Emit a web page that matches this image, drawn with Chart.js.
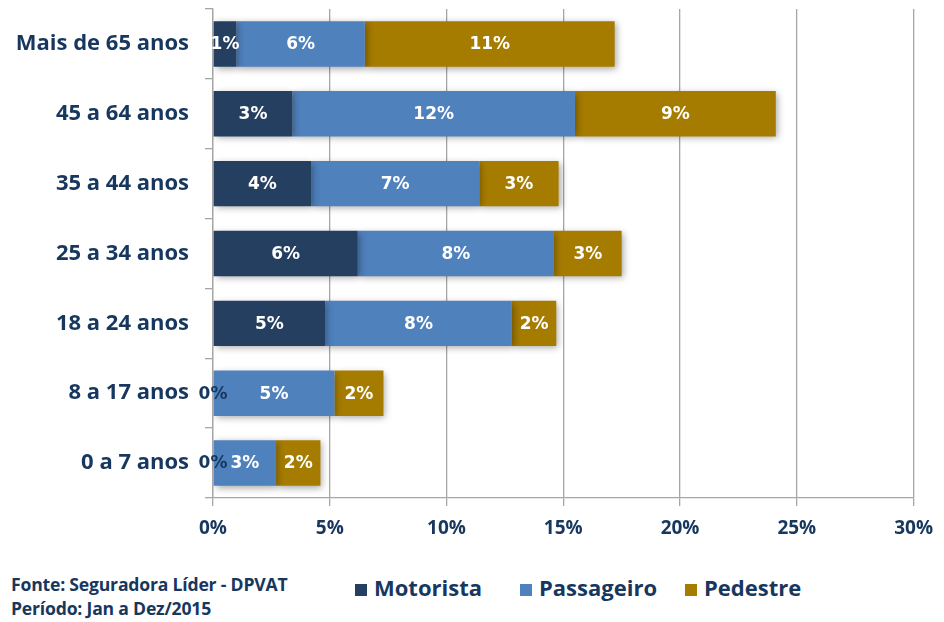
<!DOCTYPE html>
<html>
<head>
<meta charset="utf-8">
<script src="https://cdn.jsdelivr.net/npm/chart.js@4"></script>
<style>
  html, body { margin: 0; padding: 0; background: #fff; }
  #wrap { position: relative; width: 944px; height: 622px; }
  #chart-box { position: absolute; left: 0; top: 0; width: 944px; height: 557px; }
  .footer { position: absolute; left: 11px; color: #17375E;
    font: bold 17.6px "Open Sans", sans-serif; letter-spacing: -0.2px; }
  #legend { position: absolute; left: 355px; top: 572px; display: flex;
    color: #17375E; font: bold 22px "Open Sans", sans-serif; }
  #legend > div { width: 165px; white-space: nowrap; }
  #legend span.box { display: inline-block; width: 12px; height: 12px; margin-right: 7px; }
</style>
</head>
<body>
<div id="wrap">
  <div id="chart-box"><canvas id="faixa-etaria-canvas"></canvas></div>
  <div class="footer" style="top:572px">Fonte: Seguradora Líder - DPVAT</div>
  <div class="footer" style="top:596px">Período: Jan a Dez/2015</div>
  <div id="legend"></div>
</div>
<script>
// age groups, top to bottom
const ageGroups = ["Mais de 65 anos", "45 a 64 anos", "35 a 44 anos", "25 a 34 anos",
                   "18 a 24 anos", "8 a 17 anos", "0 a 7 anos"];

// share of victims (%)
const motorista  = [1.0, 3.4, 4.2, 6.2, 4.8, 0, 0];
const passageiro = [5.5, 12.1, 7.2, 8.4, 8.0, 5.2, 2.7];
const pedestre   = [10.7, 8.6, 3.4, 2.9, 1.9, 2.1, 1.9];

const seriesNames = ["Motorista", "Passageiro", "Pedestre"];
const seriesColors = ["#243F60", "#4F81BD", "#A67C00"];

const xTicks = [0, 5, 10, 15, 20, 25, 30];

const textColor = "#17375E";
const gridColor = "#A6A6A6";

// soft drop shadow under the bars
const barShadow = {
  id: "barShadow",
  beforeDatasetsDraw(chart) {
    const ctx = chart.ctx;
    ctx.save();
    ctx.shadowColor = "rgba(0,0,0,0.35)";
    ctx.shadowBlur = 7;
    ctx.shadowOffsetX = 2;
    ctx.shadowOffsetY = 2;
  },
  afterDatasetsDraw(chart) {
    chart.ctx.restore();
  }
};

// percentage labels centred in each segment
const segmentLabels = {
  id: "segmentLabels",
  afterDatasetsDraw(chart) {
    const ctx = chart.ctx;
    ctx.save();
    ctx.font = "bold 17px 'DejaVu Sans', Verdana, sans-serif";
    ctx.textAlign = "center";
    ctx.textBaseline = "middle";
    chart.data.datasets.forEach((ds, i) => {
      const meta = chart.getDatasetMeta(i);
      meta.data.forEach((bar, j) => {
        const value = ds.data[j];
        const x = (bar.x + bar.base) / 2;
        // tiny segments get a dark label since it sits on white
        ctx.fillStyle = value < 0.5 ? textColor : "#ffffff";
        ctx.fillText(Math.round(value) + "%", x, bar.y + 1);
      });
    });
    ctx.restore();
  }
};

const datasets = [motorista, passageiro, pedestre].map((values, i) => ({
  label: seriesNames[i],
  data: values,
  backgroundColor: seriesColors[i],
  borderWidth: 0,
  barPercentage: 0.65,
  categoryPercentage: 1.0,
}));

const ctx = document.getElementById("faixa-etaria-canvas").getContext("2d");

new Chart(ctx, {
  type: "bar",
  plugins: [barShadow, segmentLabels],
  data: {
    labels: ageGroups,
    datasets: datasets,
  },
  options: {
    responsive: true,
    maintainAspectRatio: false,
    animation: false,
    indexAxis: "y",
    layout: {
      padding: { top: 9, right: 27, left: 0, bottom: 0 },
    },
    scales: {
      x: {
        stacked: true,
        min: 0,
        max: 30,
        afterBuildTicks: (scale) => {
          scale.ticks = xTicks.map(v => ({ value: v }));
        },
        afterFit: (scale) => { scale.height = 59; },
        grid: {
          color: gridColor,
          lineWidth: 1.3,
          tickLength: 8,
        },
        border: { display: true, color: gridColor, width: 1.3 },
        ticks: {
          padding: 11,
          color: textColor,
          font: { family: "'Open Sans', sans-serif", size: 19, weight: "bold" },
          callback: (value) => value + "%",
        },
      },
      y: {
        stacked: true,
        afterFit: (scale) => {
          scale.width = 213;
          scale.paddingTop = 0;
          scale.paddingBottom = 0;
        },
        grid: {
          drawOnChartArea: false,
          color: gridColor,
          lineWidth: 1.3,
          tickLength: 8,
        },
        border: { display: true, color: gridColor, width: 1.3 },
        ticks: {
          padding: 16,
          color: textColor,
          font: { family: "'Open Sans', sans-serif", size: 22, weight: "bold" },
        },
      },
    },
    plugins: {
      legend: { display: false },
      tooltip: { enabled: false },
    },
  },
});

// legend under the plot
const legendEl = document.getElementById("legend");
seriesNames.forEach((name, i) => {
  const item = document.createElement("div");
  item.innerHTML = '<span class="box" style="background:' + seriesColors[i] + '"></span>' + name;
  legendEl.appendChild(item);
});
</script>
</body>
</html>
